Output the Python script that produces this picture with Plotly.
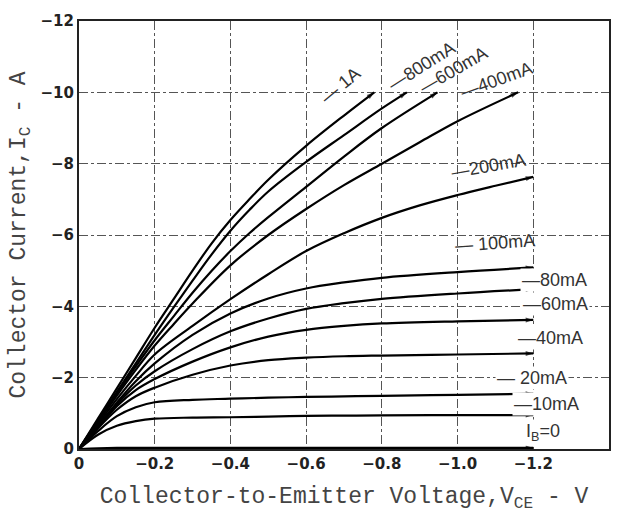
import plotly.graph_objects as go

# Collector-emitter voltage (V) and collector current (A) magnitudes; plotted as negative values
labels = ["1A", "800mA", "600mA", "400mA", "200mA", "100mA", "80mA", "60mA", "40mA", "20mA", "10mA", "IB=0"]

vce_1A  = [0, 0.05, 0.1, 0.15, 0.2, 0.25, 0.3, 0.35, 0.4, 0.45, 0.5, 0.6, 0.7, 0.78]
ic_1A   = [0, 0.85, 1.7, 2.55, 3.4, 4.2, 5.0, 5.76, 6.42, 7.0, 7.55, 8.5, 9.35, 10.0]
vce_800 = [0, 0.05, 0.1, 0.15, 0.2, 0.25, 0.3, 0.35, 0.4, 0.45, 0.5, 0.6, 0.7, 0.8, 0.866]
ic_800  = [0, 0.8, 1.6, 2.4, 3.2, 3.97, 4.72, 5.45, 6.12, 6.7, 7.22, 8.05, 8.8, 9.55, 10.0]
vce_600 = [0, 0.05, 0.1, 0.15, 0.2, 0.25, 0.3, 0.35, 0.4, 0.45, 0.5, 0.6, 0.7, 0.8, 0.947]
ic_600  = [0, 0.78, 1.56, 2.32, 3.05, 3.72, 4.38, 4.99, 5.55, 6.05, 6.5, 7.35, 8.2, 9.0, 10.0]
vce_400 = [0, 0.05, 0.1, 0.15, 0.2, 0.25, 0.3, 0.4, 0.5, 0.6, 0.7, 0.8, 0.9, 1.0, 1.16]
ic_400  = [0, 0.75, 1.5, 2.22, 2.9, 3.5, 4.08, 5.15, 6.0, 6.73, 7.4, 8.0, 8.6, 9.19, 10.0]
vce_200 = [0, 0.05, 0.1, 0.15, 0.2, 0.3, 0.4, 0.5, 0.6, 0.7, 0.8, 0.9, 1.0, 1.1, 1.2]
ic_200  = [0, 0.7, 1.4, 2.05, 2.65, 3.45, 4.2, 4.9, 5.55, 6.05, 6.48, 6.83, 7.12, 7.38, 7.63]
vce_low = [0, 0.05, 0.1, 0.15, 0.2, 0.3, 0.4, 0.5, 0.6, 0.7, 0.8, 1.0, 1.2]
ic_100  = [0, 0.65, 1.3, 1.9, 2.4, 3.2, 3.8, 4.22, 4.5, 4.67, 4.8, 4.96, 5.09]
ic_80   = [0, 0.63, 1.25, 1.78, 2.18, 2.8, 3.3, 3.66, 3.93, 4.09, 4.21, 4.36, 4.48]
ic_60   = [0, 0.6, 1.2, 1.65, 1.96, 2.45, 2.85, 3.15, 3.34, 3.45, 3.52, 3.58, 3.62]
ic_40   = [0, 0.58, 1.1, 1.48, 1.72, 2.08, 2.34, 2.49, 2.56, 2.6, 2.62, 2.65, 2.68]
ic_20   = [0, 0.5, 0.92, 1.17, 1.31, 1.38, 1.41, 1.44, 1.46, 1.475, 1.49, 1.52, 1.55]
ic_10   = [0, 0.4, 0.65, 0.78, 0.85, 0.88, 0.89, 0.91, 0.93, 0.935, 0.94, 0.95, 0.95]
ic_0    = [0, 0.02, 0.03, 0.03, 0.03, 0.03, 0.03, 0.03, 0.03, 0.03, 0.03, 0.03, 0.03]

curves = [
    (vce_1A, ic_1A), (vce_800, ic_800), (vce_600, ic_600), (vce_400, ic_400),
    (vce_200, ic_200), (vce_low, ic_100), (vce_low, ic_80), (vce_low, ic_60),
    (vce_low, ic_40), (vce_low, ic_20), (vce_low, ic_10), (vce_low, ic_0),
]

x_ticks = [0, -0.2, -0.4, -0.6, -0.8, -1.0, -1.2, -1.4]
x_ticktext = ["0", "\u22120.2", "\u22120.4", "\u22120.6", "\u22120.8", "\u22121.0", "\u22121.2", "\u22121.4"]
y_ticks = [0, -2, -4, -6, -8, -10, -12]
y_ticktext = ["0", "\u22122", "\u22124", "\u22126", "\u22128", "\u221210", "\u221212"]

fig = go.Figure()
for (vx, iy), name in zip(curves, labels):
    n = len(vx)
    fig.add_trace(go.Scatter(
        x=[-v for v in vx], y=[-i for i in iy], mode="lines+markers", name=name,
        line=dict(color="black", width=2.2, shape="spline", smoothing=1.0),
        marker=dict(symbol=["circle"] * (n - 1) + ["arrow"], size=[0] * (n - 1) + [8],
                    angleref="previous", color="black", line=dict(width=0)),
        showlegend=False, hoverinfo="skip"))

lab_font = dict(family="Liberation Sans", size=18, color="#333")
rot_labels = [
    ("\u2014 1A", -0.692, -10.2, -40),
    ("\u2014800mA", -0.905, -10.75, -32),
    ("\u2014600mA", -0.99, -10.62, -30),
    ("\u2014400mA", -1.103, -10.34, -20),
    ("\u2014200mA", -1.082, -7.93, -10),
    ("\u2014 100mA", -1.10, -5.78, -4),
]
for t, x, y, a in rot_labels:
    fig.add_annotation(x=x, y=y, text=t, showarrow=False, textangle=a, font=lab_font)

hor_labels = [
    ("\u201480mA", -1.255, -4.73),
    ("\u201460mA", -1.258, -4.06),
    ("\u201440mA", -1.245, -3.10),
    ("\u2014 20mA", -1.197, -1.99),
    ("\u201410mA", -1.234, -1.27),
    ("I<sub>B</sub>=0", -1.226, -0.47),
]
for t, x, y in hor_labels:
    fig.add_annotation(x=x, y=y, text=t, showarrow=False, font=lab_font, bgcolor="white")

title_font = dict(family="Liberation Mono", size=23, color="#444")
tick_font = dict(family="DejaVu Sans", size=15, color="#222", weight="bold")

fig.update_layout(
    width=623, height=516, margin=dict(l=79, r=12, t=13, b=67),
    paper_bgcolor="white", plot_bgcolor="white",
    xaxis=dict(range=[0, -1.4], tickvals=x_ticks, ticktext=x_ticktext, tickfont=tick_font,
               showgrid=True, gridcolor="#555", gridwidth=1, griddash="dashdot",
               showline=True, linecolor="#222", linewidth=2, mirror=True, zeroline=False,
               ticks="", title=dict(text="Collector-to-Emitter Voltage,V<sub>CE</sub> - V",
                                    font=title_font, standoff=15)),
    yaxis=dict(range=[0, -12], tickvals=y_ticks, ticktext=y_ticktext, tickfont=tick_font,
               showgrid=True, gridcolor="#555", gridwidth=1, griddash="dashdot",
               showline=True, linecolor="#222", linewidth=2, mirror=True, zeroline=False,
               ticks="", title=dict(text="Collector Current,I<sub>C</sub> - A",
                                    font=title_font, standoff=8)),
)

fig.write_html("out.html")
